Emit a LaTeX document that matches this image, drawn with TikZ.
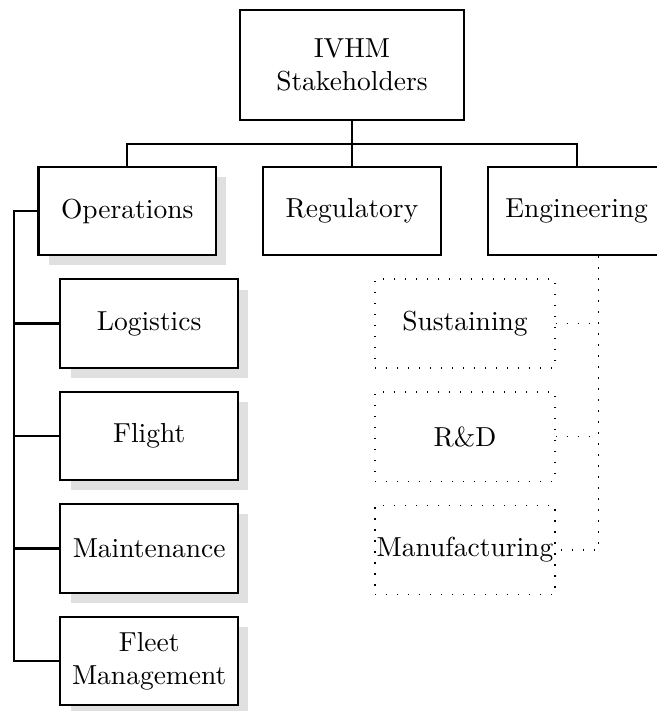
\documentclass[tikz,border=0pt]{standalone}
\usepackage{tikz}
\usetikzlibrary{positioning,shadows}

\begin{document}
\begin{tikzpicture}[
  node distance=5.75mm,
  box/.style={draw, thick, fill=white, align=center, minimum width=22.7mm, minimum height=11.3mm, inner sep=1pt},
  shadowbox/.style={box, drop shadow={shadow xshift=1.3mm, shadow yshift=-1.3mm, fill=black!12, opacity=1}},
  dotbox/.style={draw, line width=0.5pt, dash pattern=on 0.5pt off 3.5pt, align=center, minimum width=23mm, minimum height=11.4mm, inner sep=0pt},
  link/.style={thick},
  dotlink/.style={line width=0.5pt, dash pattern=on 0.5pt off 3.5pt}
]
\useasboundingbox (0,0) rectangle (8.39,-9.09);
\node[box, minimum width=28.6mm, minimum height=14.0mm] (root) at (4.5,-0.83) {IVHM\\Stakeholders};
\node[box, below=of root] (reg) {Regulatory};
\node[shadowbox, left=of reg] (ops) {Operations};
\node[box, right=of reg] (eng) {Engineering};
% operations side
\node[shadowbox, below=2.8mm of ops.south west, anchor=north west, xshift=2.8mm] (logi) {Logistics};
\node[shadowbox, below=2.8mm of logi] (flight) {Flight};
\node[shadowbox, below=2.8mm of flight] (maint) {Maintenance};
\node[shadowbox, below=2.8mm of maint] (fleet) {Fleet\\Management};
% engineering side
\node[dotbox, right=17.3mm of logi] (sust) {Sustaining};
\node[dotbox, below=2.9mm of sust] (rnd) {R\&D};
\node[dotbox, below=2.9mm of rnd] (manu) {Manufacturing};
\coordinate (bus) at ([yshift=-2.96mm]root.south);
\coordinate (lbus) at ([xshift=-2.95mm]ops.west);
\coordinate (rbus) at ([xshift=2.8mm]eng.south);
\draw[link] (root.south) -- (reg.north);
\draw[link] (ops.north) |- (bus) -| (eng.north);
\draw[link] (ops.west) -- (lbus) |- (fleet.west);
\foreach \n in {logi,flight,maint}
  \draw[link] (lbus |- \n.west) -- (\n.west);
\draw[dotlink] (rbus) |- (manu.east);
\foreach \n in {sust,rnd}
  \draw[dotlink] (\n.east) -- (\n.east -| rbus);
\end{tikzpicture}
\end{document}
